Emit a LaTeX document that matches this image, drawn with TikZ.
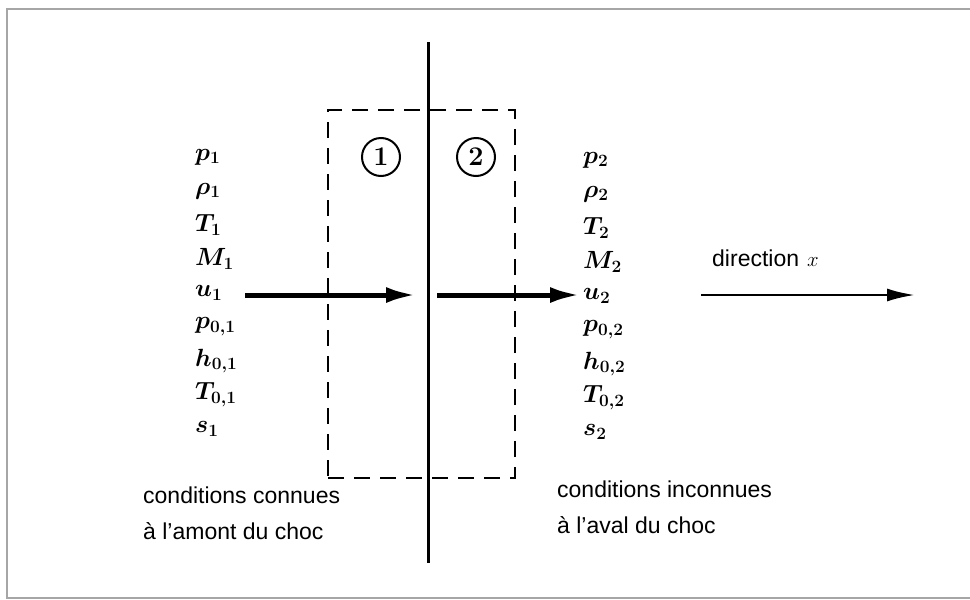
\documentclass[tikz,border=0pt]{standalone}
\usepackage{fontspec}
\setsansfont{Liberation Sans}
\usetikzlibrary{arrows.meta}
\begin{document}
\begin{tikzpicture}[x=1pt,y=-1pt,
  var/.style={anchor=west,inner sep=0pt,font=\fontsize{25}{30}\selectfont\boldmath},
  lbl/.style={anchor=west,inner sep=0pt,align=left,font=\sffamily\fontsize{23}{36}\selectfont},
  thickarr/.style={line width=5pt,-{Latex[length=30pt,width=16pt]}},
  thinarr/.style={line width=2.6pt,-{Latex[length=28pt,width=13pt]}},
  num/.style={circle,draw,line width=2pt,minimum size=38pt,inner sep=0pt,font=\fontsize{27}{30}\selectfont\bfseries}]
\useasboundingbox (0,0) rectangle (970,600);
% frame
\draw[line width=1.4pt,gray!70] (970,9) -- (7,9) -- (7,598) -- (970,598);
% shock line
\coordinate (shtop) at (428,42);
\coordinate (shbot) at (428,563);
\draw[line width=3pt] (shtop) -- (shbot);
% dashed control volume
\node[draw,line width=2.2pt,dash pattern=on 16pt off 10pt,minimum width=187pt,minimum height=368pt,inner sep=0pt] (cv) at (421.5,294) {};
% circled numbers
\node[num] (n1) at (381,157) {1};
\node[num] (n2) at (476,157) {2};
% left variables
\node[var] (p1) at (195,157) {$p_1$};
\node[var] (r1) at (195,191) {$\rho_1$};
\node[var] (T1) at (195,225) {$T_1$};
\node[var] (M1) at (195,259) {$M_1$};
\node[var] (u1) at (195,293) {$u_1$};
\node[var] (p01) at (195,327) {$p_{0{,}1}$};
\node[var] (h01) at (195,361) {$h_{0{,}1}$};
\node[var] (T01) at (195,395) {$T_{0{,}1}$};
\node[var] (s1) at (195,429) {$s_1$};
% right variables
\node[var] (p2) at (583,160) {$p_2$};
\node[var] (r2) at (583,194) {$\rho_2$};
\node[var] (T2) at (583,228) {$T_2$};
\node[var] (M2) at (583,262) {$M_2$};
\node[var] (u2) at (583,296) {$u_2$};
\node[var] (p02) at (583,330) {$p_{0{,}2}$};
\node[var] (h02) at (583,364) {$h_{0{,}2}$};
\node[var] (T02) at (583,398) {$T_{0{,}2}$};
\node[var] (s2) at (583,432) {$s_2$};
% arrows
\coordinate (a1s) at (245,295);
\coordinate (a1e) at (416,295);
\coordinate (a2s) at (437,295);
\coordinate (a2e) at (580,295);
\draw[thickarr] (a1s) -- (a1e);
\draw[thickarr] (a2s) -- (a2e);
\coordinate (ds) at (701,295);
\coordinate (de) at (915,295);
\draw[thinarr] (ds) -- (de);
\node[lbl] (dir) at (712,258) {direction\hspace{8pt}\fontsize{22}{24}\selectfont$x$};
% bottom labels
\node[lbl] (left) at (143,513) {conditions connues\\à l'amont du choc};
\node[lbl] (right) at (557,507) {conditions inconnues\\à l'aval du choc};
\end{tikzpicture}
\end{document}
